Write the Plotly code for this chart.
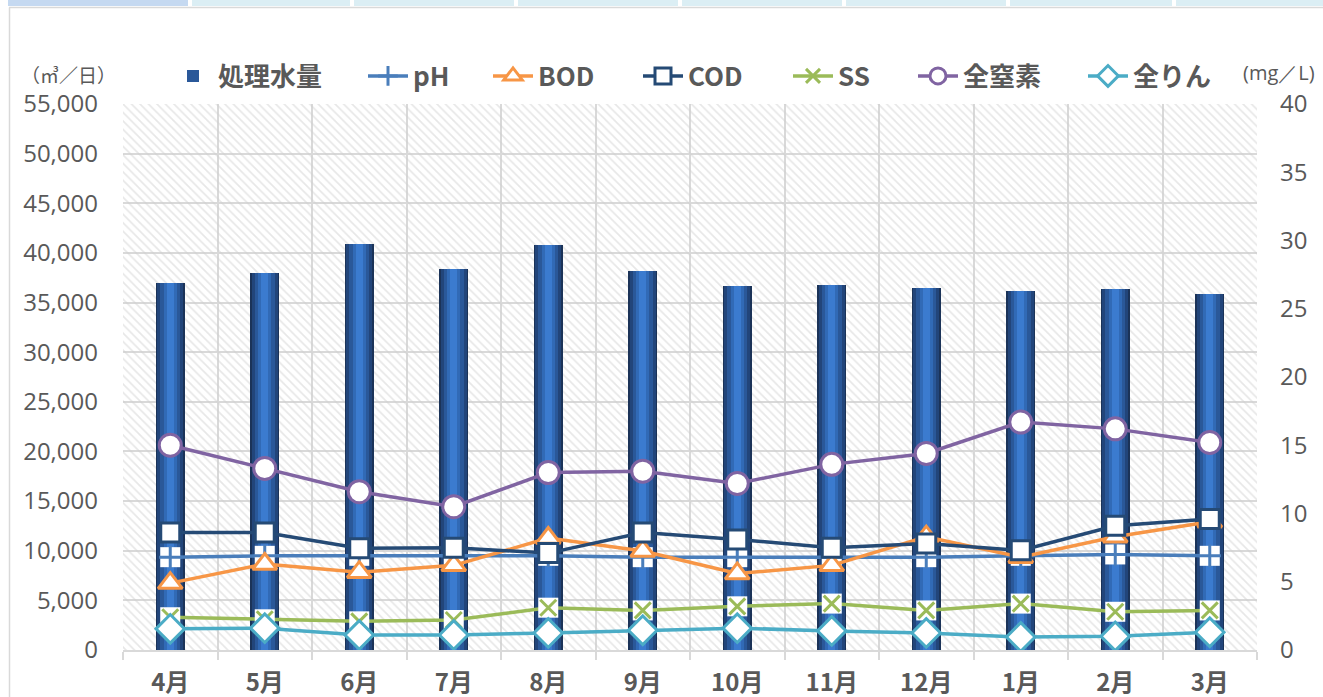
import plotly.graph_objects as go

months = ["4月", "5月", "6月", "7月", "8月", "9月", "10月", "11月", "12月", "1月", "2月", "3月"]
flow = [36970, 37980, 40900, 38380, 40800, 38180, 36670, 36770, 36470, 36160, 36370, 35860]
ph = [6.8, 6.9, 6.9, 6.9, 6.9, 6.8, 6.8, 6.8, 6.8, 6.9, 7.0, 6.9]
bod = [4.9, 6.3, 5.7, 6.2, 8.2, 7.25, 5.6, 6.2, 8.3, 6.8, 8.3, 9.4]
cod = [8.6, 8.6, 7.45, 7.5, 7.1, 8.6, 8.1, 7.5, 7.8, 7.3, 9.1, 9.6]
ss = [2.4, 2.25, 2.1, 2.2, 3.1, 2.9, 3.2, 3.4, 2.9, 3.4, 2.8, 2.9]
tn = [15.0, 13.3, 11.6, 10.5, 13.0, 13.1, 12.2, 13.6, 14.4, 16.7, 16.2, 15.2]
tp = [1.55, 1.6, 1.1, 1.1, 1.25, 1.45, 1.6, 1.4, 1.25, 0.95, 1.0, 1.3]

left_ticks = list(range(0, 55001, 5000))
right_ticks = list(range(0, 41, 5))

FONT = "Noto Sans CJK JP"
NUMFONT = "Open Sans"
GREY = "#595959"
GRID = "#d9d9d9"
LW = 3.5

# pixel layout
L, R, T, B = 123, 1257, 104, 650
def px(xp):
    return (xp - L) / (R - L)
def py(yp):
    return (B - yp) / (B - T)

# legend entry positions (px) for each series, in legend order
legend_x = {"処理水量": 168, "pH": 363, "BOD": 488, "COD": 638, "SS": 788, "全窒素": 913, "全りん": 1083}
legend_ids = {}
for i, k in enumerate(legend_x):
    legend_ids[k] = "legend" if i == 0 else f"legend{i + 1}"

fig = go.Figure()

# hatched plot-area background
fig.add_trace(go.Bar(
    x=[months[0]], y=[left_ticks[-1]], width=[len(months)], offset=-0.5,
    marker=dict(color="rgba(0,0,0,0)", line=dict(width=0),
                pattern=dict(shape="\\", fgcolor="#cfcfcf", bgcolor="rgba(0,0,0,0)",
                             size=6, solidity=0.28, fillmode="overlay")),
    showlegend=False, hoverinfo="skip"))

# cylinder-like bars (layers of same data)
layers = [(0.31, "#1b3358"), (0.27, "#22457a"), (0.21, "#2a5899"), (0.14, "#316ab6"), (0.07, "#3b7bcf")]
for i, (w, c) in enumerate(layers):
    fig.add_trace(go.Bar(
        x=months, y=flow, width=w, name="処理水量",
        marker=dict(color=c, line=dict(width=0)),
        showlegend=(i == 2), legend=legend_ids["処理水量"], legendgroup="flow",
        hoverinfo="skip" if i else None))

def line_series(name, vals, color, symbol, size, fill="white", lw=3, showlegend=True):
    fig.add_trace(go.Scatter(
        x=months, y=vals, name=name, yaxis="y2", mode="lines+markers",
        line=dict(color=color, width=LW),
        marker=dict(symbol=symbol, size=size, color=fill, line=dict(color=color, width=lw)),
        showlegend=showlegend, legend=legend_ids[name], legendgroup=name))

def boxed_series(name, vals, color, symbol):
    line_series(name, vals, color, symbol, 14, fill=color, lw=3)
    fig.add_trace(go.Scatter(
        x=months, y=vals, yaxis="y2", mode="markers",
        marker=dict(symbol="square", size=20, color="white", line=dict(color="white", width=0)),
        showlegend=False, legendgroup=name, hoverinfo="skip"))
    fig.add_trace(go.Scatter(
        x=months, y=vals, yaxis="y2", mode="markers",
        marker=dict(symbol=symbol, size=16, color=color, line=dict(color=color, width=3)),
        showlegend=False, legendgroup=name, hoverinfo="skip"))

boxed_series("pH", ph, "#4a7ebb", "cross-thin")
line_series("BOD", bod, "#f79646", "triangle-up", 21)
line_series("COD", cod, "#254a75", "square", 19)
boxed_series("SS", ss, "#9bbb59", "x-thin")
line_series("全窒素", tn, "#8064a2", "circle", 22)
line_series("全りん", tp, "#4bacc6", "diamond", 22)

# decorations: tabs and frame
shapes = [dict(type="rect", xref="paper", yref="paper", x0=px(8), x1=px(188), y0=py(6), y1=py(0),
               fillcolor="#c5d9f1", line=dict(width=0))]
tab_edges = [192, 354, 518, 682, 846, 1010, 1176, 1330]
for a, b in zip(tab_edges[:-1], tab_edges[1:]):
    shapes.append(dict(type="rect", xref="paper", yref="paper", x0=px(a), x1=px(b - 4), y0=py(6), y1=py(0),
                       fillcolor="#dbeef4", line=dict(width=0)))
shapes.append(dict(type="line", xref="paper", yref="paper", x0=px(9), x1=px(1323), y0=py(7.5), y1=py(7.5),
                   line=dict(color="#d9d9d9", width=1.5)))
shapes.append(dict(type="line", xref="paper", yref="paper", x0=px(9.5), x1=px(9.5), y0=py(7.5), y1=py(697),
                   line=dict(color="#d9d9d9", width=1.5)))

legend_style = dict(orientation="h", xanchor="left", y=py(76), yanchor="middle",
                    font=dict(size=26, color=GREY, family=FONT, weight="bold"),
                    bgcolor="rgba(0,0,0,0)", itemwidth=40, tracegroupgap=0)
legends = {}
for k, lid in legend_ids.items():
    legends[lid] = dict(legend_style, x=px(legend_x[k]))

fig.update_layout(
    width=1323, height=697,
    margin=dict(l=L, r=1323 - R, t=T, b=697 - B, autoexpand=False),
    paper_bgcolor="white", plot_bgcolor="white",
    barmode="overlay", bargap=0,
    font=dict(family=FONT, color=GREY),
    shapes=shapes,
    showlegend=True,
    annotations=[
        dict(text="（㎥／日）", xref="paper", yref="paper", x=px(68), y=py(75), showarrow=False,
             font=dict(size=19, color=GREY, family=FONT), xanchor="center", yanchor="middle"),
        dict(text="(mg／L)", xref="paper", yref="paper", x=px(1279), y=py(72), showarrow=False,
             font=dict(size=20, color=GREY, family=NUMFONT), xanchor="center", yanchor="middle"),
    ],
    xaxis=dict(type="category", categoryorder="array", categoryarray=months,
               range=[-0.5, len(months) - 0.5], tickson="boundaries",
               showgrid=True, gridcolor=GRID, gridwidth=1.5,
               showline=True, linecolor=GRID, linewidth=1.5,
               ticks="outside", ticklen=8, tickcolor=GRID, tickwidth=1.5,
               ticklabelstandoff=10, automargin=False,
               tickfont=dict(size=24, color=GREY, family=FONT, weight="bold"),
               fixedrange=True),
    yaxis=dict(range=[0, left_ticks[-1]], tickvals=left_ticks, ticktext=[f"{v:,}" for v in left_ticks],
               showgrid=True, gridcolor=GRID, gridwidth=1.5, zeroline=False,
               showline=False, ticks="", ticklabelstandoff=24, automargin=False,
               tickfont=dict(size=24, color=GREY, family=NUMFONT)),
    yaxis2=dict(range=[0, right_ticks[-1]], tickvals=right_ticks, overlaying="y", side="right",
                showgrid=False, zeroline=False, showline=False, ticks="", ticklabelstandoff=22,
                automargin=False, tickfont=dict(size=24, color=GREY, family=NUMFONT)),
    **legends,
)

fig.write_html("out.html", config={"displayModeBar": False},
               post_script="document.body.style.margin='0';")
